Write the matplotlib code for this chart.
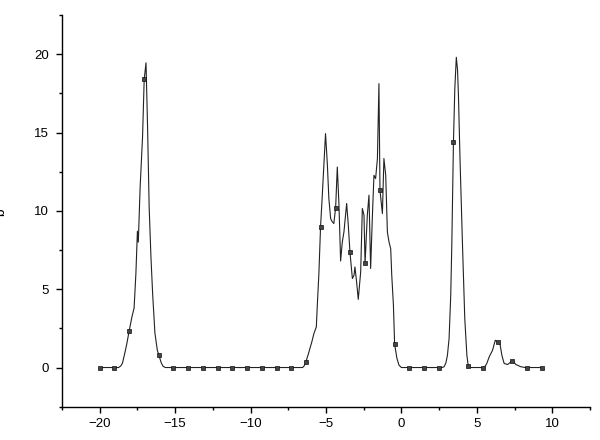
import numpy as np
import matplotlib
matplotlib.use('Agg')
import matplotlib.pyplot as plt
from matplotlib.ticker import MultipleLocator

plt.rcParams['font.family'] = ['Liberation Sans', 'DejaVu Sans']

# curve
curve_x = [-20.0, -18.75, -18.6, -18.49, -18.34, -18.2, -18.05, -17.87, -17.72, -17.6,
           -17.5, -17.44, -17.32, -17.16, -17.05, -16.93, -16.83, -16.72, -16.6, -16.49,
           -16.34, -16.18, -16.07, -15.92, -15.8, -15.65,
           -6.55, -6.45, -6.35, -6.17, -5.94, -5.8, -5.64, -5.58, -5.47, -5.36,
           -5.25, -5.03, -4.91, -4.81, -4.69, -4.58, -4.48, -4.36, -4.25, -4.14,
           -4.03, -3.92, -3.81, -3.63, -3.52, -3.41, -3.25, -3.14, -3.08, -2.97,
           -2.86, -2.7, -2.59, -2.48, -2.41, -2.26, -2.15, -2.04, -1.93, -1.82,
           -1.71, -1.59, -1.49, -1.42, -1.26, -1.16, -1.04, -0.93, -0.82, -0.71,
           -0.64, -0.53, -0.45, -0.3, -0.16, 0.0,
           2.7, 2.83, 2.95, 3.05, 3.16, 3.27, 3.34, 3.45, 3.54, 3.64,
           3.72, 3.78, 3.89, 4.05, 4.2, 4.34, 4.43, 4.6,
           5.5, 5.66, 5.82, 6.04, 6.22, 6.39, 6.53, 6.66, 6.81, 7.04,
           7.26, 7.38, 7.59, 7.92, 8.2, 9.32]
curve_y = [0.0, 0.0, 0.1, 0.28, 0.9, 1.53, 2.32, 3.2, 3.8, 6.0,
           8.7, 8.0, 11.5, 14.7, 18.4, 19.45, 15.5, 10.2, 7.0, 4.7,
           2.2, 1.1, 0.77, 0.3, 0.08, 0.0,
           0.0, 0.1, 0.31, 0.86, 1.63, 2.17, 2.59, 3.87, 6.0, 8.97,
           10.9, 14.93, 13.0, 10.8, 9.5, 9.3, 9.19, 10.19, 12.8, 10.4,
           6.8, 8.0, 8.65, 10.47, 9.08, 7.35, 5.68, 5.89, 6.42, 5.46,
           4.35, 6.1, 10.15, 9.72, 6.64, 9.72, 11.0, 6.32, 9.5, 12.27,
           12.06, 13.34, 18.12, 11.3, 9.83, 13.34, 12.27, 8.65, 8.0, 7.59,
           5.89, 3.98, 1.5, 0.6, 0.15, 0.0,
           0.0, 0.05, 0.3, 0.78, 1.85, 4.61, 7.8, 14.4, 17.8, 19.8,
           19.0, 17.38, 13.12, 7.8, 3.13, 0.78, 0.1, 0.0,
           0.0, 0.26, 0.68, 1.1, 1.74, 1.6, 1.53, 0.78, 0.26, 0.19,
           0.36, 0.42, 0.19, 0.05, 0.0, 0.0]

# square markers
mark_x = [-20.0, -19.02, -18.05, -17.07, -16.09, -15.11, -14.14, -13.16, -12.18, -11.2,
          -10.23, -9.25, -8.27, -7.29, -6.32, -5.34, -4.36, -3.39, -2.41, -1.43,
          -0.45, 0.52, 1.5, 2.48, 3.45, 4.43, 5.41, 6.39, 7.36, 8.34, 9.32]
mark_y = [0.0, 0.0, 2.32, 18.4, 0.77, 0.0, 0.0, 0.0, 0.0, 0.0,
          0.0, 0.0, 0.0, 0.0, 0.33, 9.0, 10.2, 7.35, 6.64, 11.3,
          1.5, 0.0, 0.0, 0.0, 14.4, 0.1, 0.0, 1.6, 0.42, 0.0, 0.0]

fig = plt.figure(figsize=(6, 4.4), dpi=100)
ax = fig.add_axes([0.1033, 0.0757, 0.88, 0.8902])

ax.plot(curve_x, curve_y, color='#222222', lw=0.8, zorder=2)
ax.plot(mark_x, mark_y, ls='none', marker='s', ms=2.6,
        mfc='#444444', mec='#111111', mew=0.5, zorder=3)

ax.set_xlim(-22.5, 12.5)
ax.set_ylim(-2.5, 22.5)
ax.xaxis.set_major_locator(MultipleLocator(5))
ax.xaxis.set_minor_locator(MultipleLocator(2.5))
ax.yaxis.set_major_locator(MultipleLocator(5))
ax.yaxis.set_minor_locator(MultipleLocator(2.5))
ax.set_xticks([-20, -15, -10, -5, 0, 5, 10])
ax.set_yticks([0, 5, 10, 15, 20])

ax.spines['top'].set_visible(False)
ax.spines['right'].set_visible(False)
for s in ('left', 'bottom'):
    ax.spines[s].set_linewidth(1.0)
ax.tick_params(which='major', direction='out', length=4.5, width=1.0,
               labelsize=9.5, colors='black')
ax.tick_params(axis='x', which='major', pad=4)
ax.tick_params(axis='y', which='major', pad=5)
ax.tick_params(which='minor', direction='out', length=2.5, width=1.0)

fig.text(0.0, 0.518, 'b', rotation=90, ha='center', va='center', fontsize=10)

fig.savefig('out.png', dpi=100)
